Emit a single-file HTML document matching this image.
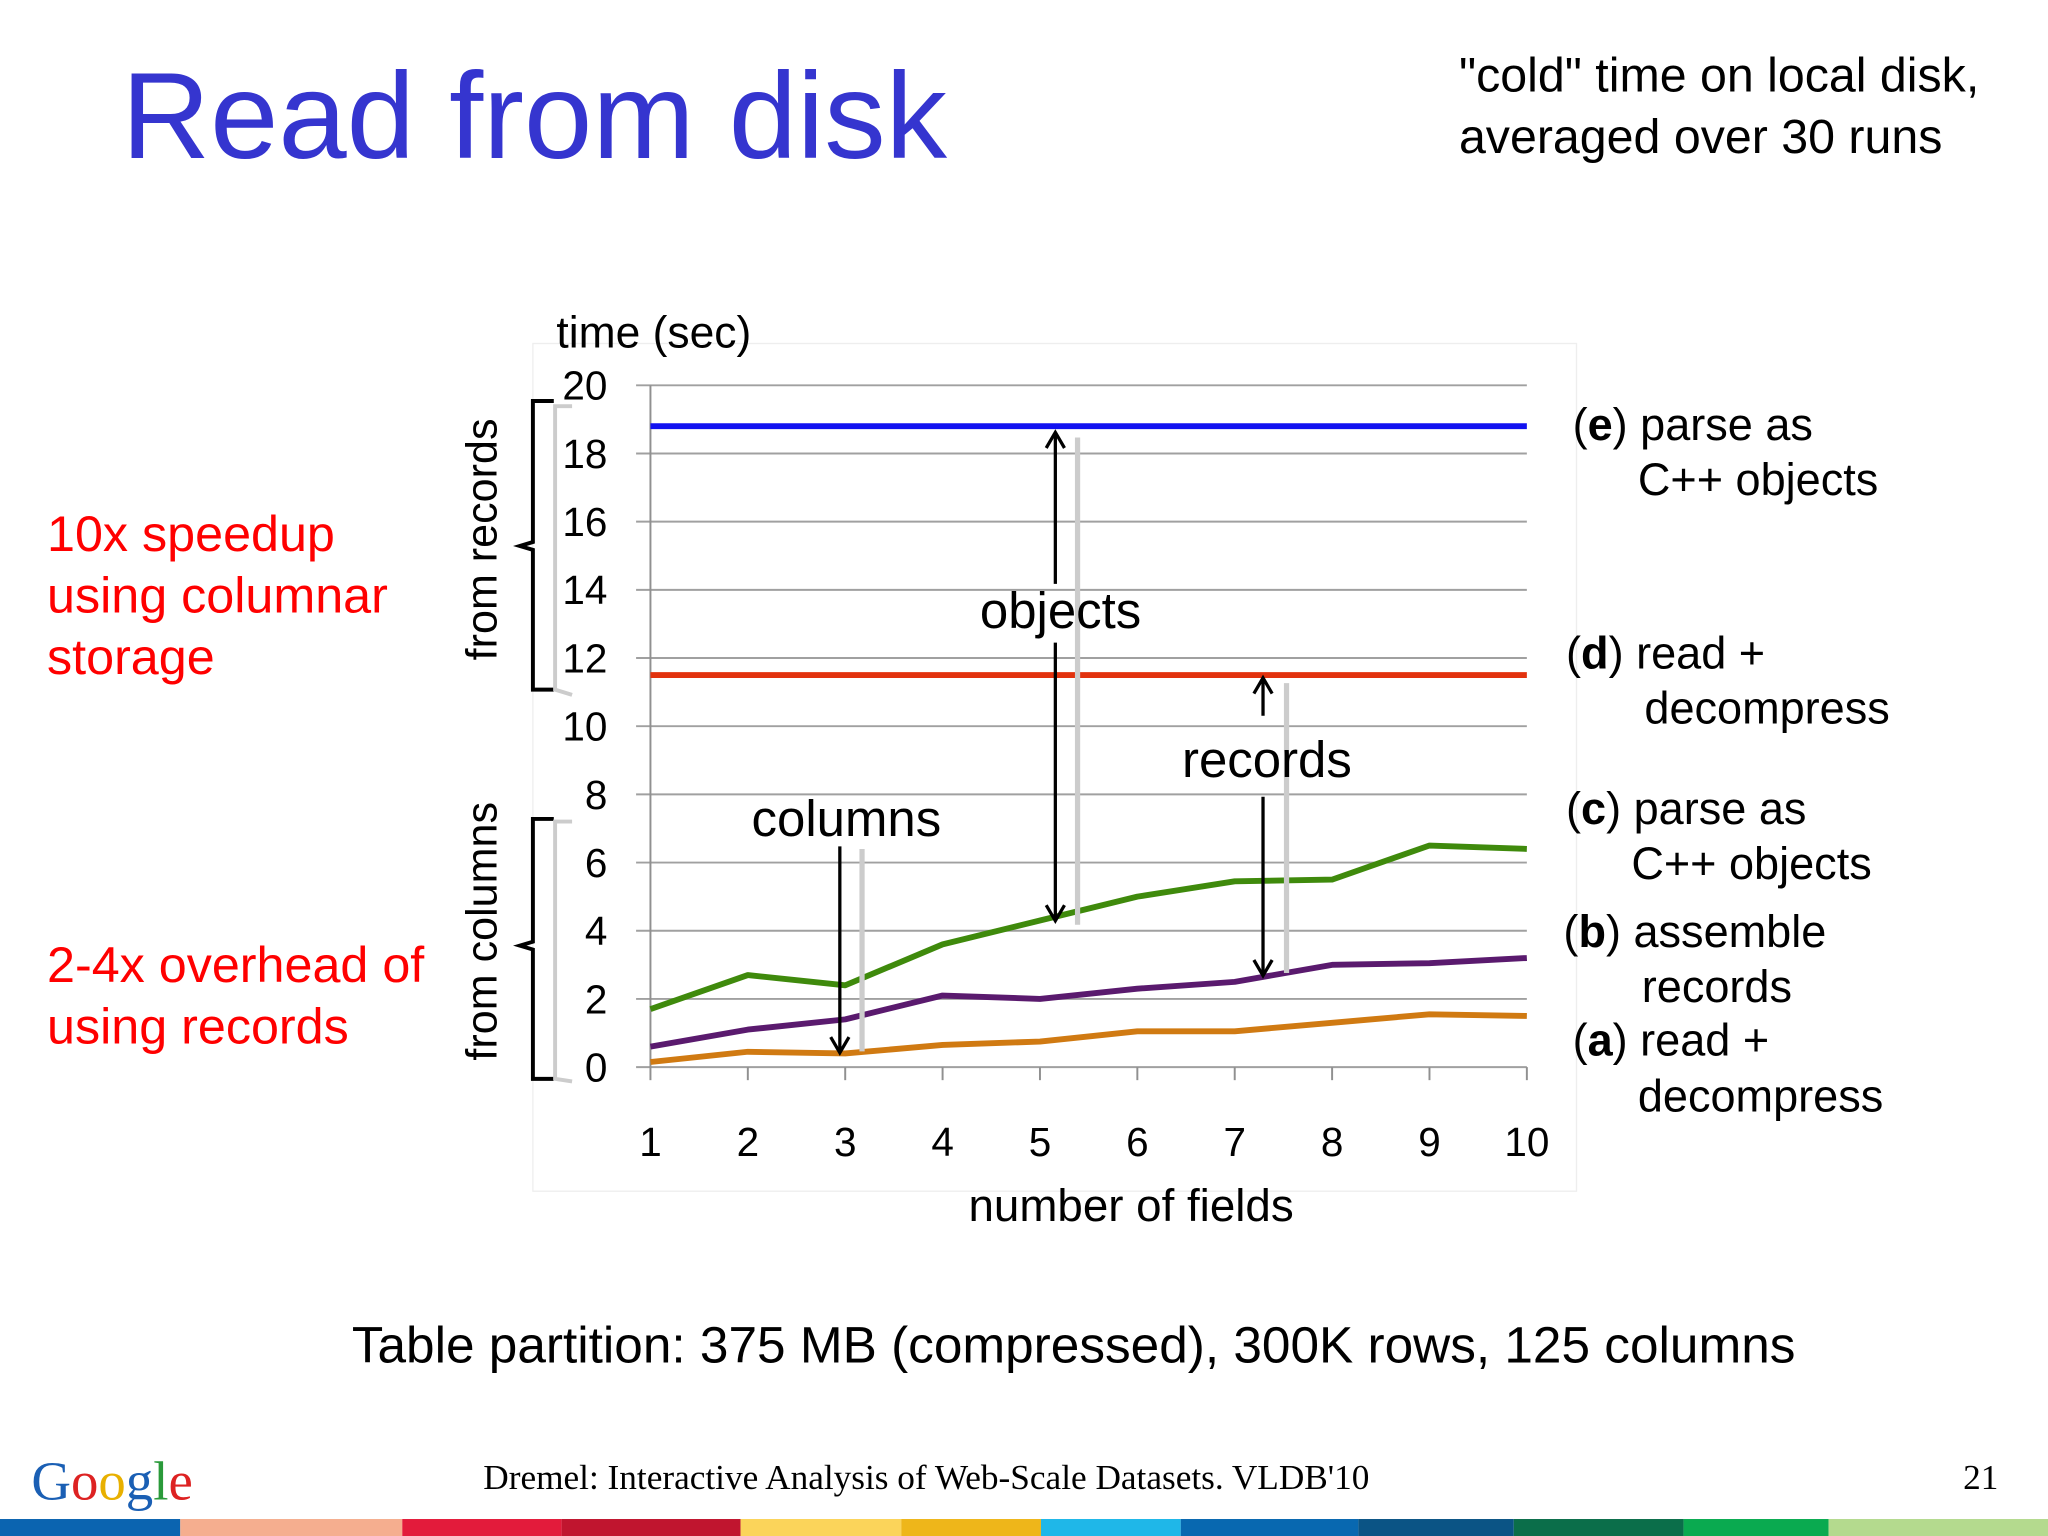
<!DOCTYPE html>
<html><head><meta charset="utf-8"><style>
html,body{margin:0;padding:0;background:#fff;}
svg{display:block;}
.sans{font-family:"Liberation Sans",sans-serif;}
</style></head><body>
<svg id="slide" class="sans" width="2048" height="1536" viewBox="0 0 1568 1176" xmlns="http://www.w3.org/2000/svg" font-family="Liberation Sans, sans-serif">
<rect width="1568" height="1176" fill="#fff"/>
<text x="93" y="121" font-size="94" fill="#3535cf">Read from disk</text>
<text font-size="37" fill="#000"><tspan x="1117" y="70">"cold" time on local disk,</tspan><tspan x="1117" y="117">averaged over 30 runs</tspan></text>
<rect x="408" y="263" width="799" height="649" fill="#fff" stroke="#eee" stroke-width="1"/>
<g id="grid"></g>
<g id="yticks"></g>
<g id="xticks"></g>
<g id="series"></g>
<text x="426" y="266" font-size="34">time (sec)</text>
<text x="866" y="935" font-size="35" text-anchor="middle">number of fields</text>
<path d="M424 307 L408 307 L408 415 L398 418 L408 421 L408 528 L424 528" fill="none" stroke="#000" stroke-width="3"/>
<path d="M438 311 L425 311 L425 528 L438 532" fill="none" stroke="#ccc" stroke-width="3"/>
<path d="M424 627 L408 627 L408 721 L398 724 L408 727 L408 826 L424 826" fill="none" stroke="#000" stroke-width="3"/>
<path d="M438 629 L425 629 L425 826 L438 828" fill="none" stroke="#ccc" stroke-width="3"/>
<text transform="translate(380,413) rotate(-90)" font-size="33" text-anchor="middle">from records</text>
<text transform="translate(380,713) rotate(-90)" font-size="33" text-anchor="middle">from columns</text>
<text font-size="38.5" fill="#f00"><tspan x="36" y="422">10x speedup</tspan><tspan x="36" y="469">using columnar</tspan><tspan x="36" y="516">storage</tspan></text>
<text font-size="38.5" fill="#f00"><tspan x="36" y="752">2-4x overhead of</tspan><tspan x="36" y="799">using records</tspan></text>
<g fill="none" stroke-width="2.5">
<line x1="825" y1="335" x2="825" y2="708" stroke="#ccc" stroke-width="4"/>
<line x1="985" y1="523" x2="985" y2="745" stroke="#ccc" stroke-width="4"/>
<line x1="660" y1="650" x2="660" y2="805" stroke="#ccc" stroke-width="4"/>
<line x1="808" y1="333" x2="808" y2="447" stroke="#000"/><path d="M801 343 L808 331 L815 343" stroke="#000"/>
<line x1="808" y1="492" x2="808" y2="703" stroke="#000"/><path d="M801 693 L808 705 L815 693" stroke="#000"/>
<line x1="967" y1="521" x2="967" y2="548" stroke="#000"/><path d="M960 531 L967 519 L974 531" stroke="#000"/>
<line x1="967" y1="610" x2="967" y2="745" stroke="#000"/><path d="M960 735 L967 747 L974 735" stroke="#000"/>
<line x1="643" y1="648" x2="643" y2="804" stroke="#000"/><path d="M636 794 L643 806 L650 794" stroke="#000"/>
</g>
<text x="812" y="481" font-size="39" text-anchor="middle">objects</text>
<text x="970" y="595" font-size="39" text-anchor="middle">records</text>
<text x="648" y="640" font-size="39" text-anchor="middle">columns</text>
<g font-size="34.5">
<text x="1204" y="337">(<tspan font-weight="bold">e</tspan>) parse as</text>
<text x="1254" y="379">C++ objects</text>
<text x="1199" y="512">(<tspan font-weight="bold">d</tspan>) read +</text>
<text x="1259" y="554">decompress</text>
<text x="1199" y="631">(<tspan font-weight="bold">c</tspan>) parse as</text>
<text x="1249" y="673">C++ objects</text>
<text x="1197" y="725">(<tspan font-weight="bold">b</tspan>) assemble</text>
<text x="1257" y="767">records</text>
<text x="1204" y="808">(<tspan font-weight="bold">a</tspan>) read +</text>
<text x="1254" y="851">decompress</text>
</g>
<text x="822" y="1043" font-size="39.3" text-anchor="middle">Table partition: 375 MB (compressed), 300K rows, 125 columns</text>
<text x="24" y="1148" font-size="42" style="font-family:'Liberation Serif',serif"><tspan fill="#1a5fb4">G</tspan><tspan fill="#d22">o</tspan><tspan fill="#e8b000">o</tspan><tspan fill="#1a5fb4">g</tspan><tspan fill="#2a9a3a">l</tspan><tspan fill="#d22">e</tspan></text>
<text x="370" y="1140" font-size="27" style="font-family:'Liberation Serif',serif">Dremel: Interactive Analysis of Web-Scale Datasets. VLDB'10</text>
<text x="1530" y="1140" font-size="27" text-anchor="end" style="font-family:'Liberation Serif',serif">21</text>
<g id="colorbar"></g>
</svg>
<script>
const categories = [1,2,3,4,5,6,7,8,9,10];
const yTicks = [0,2,4,6,8,10,12,14,16,18,20];
const seriesA = [0.15,0.45,0.4,0.65,0.75,1.05,1.05,1.3,1.55,1.5];
const seriesB = [0.6,1.1,1.4,2.1,2.0,2.3,2.5,3.0,3.05,3.2];
const seriesC = [1.7,2.7,2.4,3.6,4.3,5.0,5.45,5.5,6.5,6.4];
const seriesD = [11.5,11.5,11.5,11.5,11.5,11.5,11.5,11.5,11.5,11.5];
const seriesE = [18.8,18.8,18.8,18.8,18.8,18.8,18.8,18.8,18.8,18.8];
const NS = "http://www.w3.org/2000/svg";
const X0 = 498, X1 = 1169, Y0 = 817, Y1 = 295;
function xs(i){ return X0 + (i - 1) * (X1 - X0) / 9; }
function ys(v){ return Y0 - v * (Y0 - Y1) / 20; }
function mk(tag, attrs, parent){ const e = document.createElementNS(NS, tag); for (const k in attrs) e.setAttribute(k, attrs[k]); parent.appendChild(e); return e; }
const grid = document.getElementById('grid');
const yt = document.getElementById('yticks');
yTicks.forEach(t => {
  const l = mk('line', {x1: 487, x2: X1, y1: ys(t), y2: ys(t), stroke: '#a0a0a0', 'stroke-width': 1.5}, grid);
  
  
  const tx = mk('text', {x: 465, y: ys(t) + 11, 'font-size': 31, 'text-anchor': 'end'}, yt);
  tx.textContent = t;
  
  
});
mk('line', {x1: X0, x2: X0, y1: Y1, y2: Y0, stroke: '#909090', 'stroke-width': 1.5}, grid);
const xt = document.getElementById('xticks');
categories.forEach(c => {
  mk('line', {x1: xs(c), x2: xs(c), y1: Y0, y2: Y0 + 10, stroke: '#909090', 'stroke-width': 1.5}, grid);
  const tx = mk('text', {x: xs(c), y: 885, 'font-size': 31, 'text-anchor': 'middle'}, xt);
  tx.textContent = c;
  
  
});
const sg = document.getElementById('series');
[[seriesA, '#d07a12', 'series-a-line'], [seriesB, '#5a1a6e', 'series-b-line'], [seriesC, '#3f8a0c', 'series-c-line'], [seriesD, '#e2320e', 'series-d-line'], [seriesE, '#1212f0', 'series-e-line']].forEach(s => {
  const pts = s[0].map((v, i) => xs(categories[i]) + ',' + ys(v)).join(' ');
  const p = mk('polyline', {points: pts, fill: 'none', stroke: s[1], 'stroke-width': 4.5, 'stroke-linejoin': 'round'}, sg);
  
  
});
const cb = document.getElementById('colorbar');
[[0,138,'#0b64b0'],[138,308,'#f5ae8f'],[308,430,'#e31b3b'],[430,567,'#c0152f'],[567,690,'#fbd45a'],[690,797,'#eeb61a'],[797,904,'#1fb7e8'],[904,1040,'#0868b0'],[1040,1159,'#0b5485'],[1159,1289,'#0b6e4a'],[1289,1400,'#0aaa50'],[1400,1568,'#b4da8e']].forEach(s => {
  const r = mk('rect', {x: s[0], y: 1163, width: s[1] - s[0], height: 13, fill: s[2]}, cb);
  
  
});
</script>
</body></html>
